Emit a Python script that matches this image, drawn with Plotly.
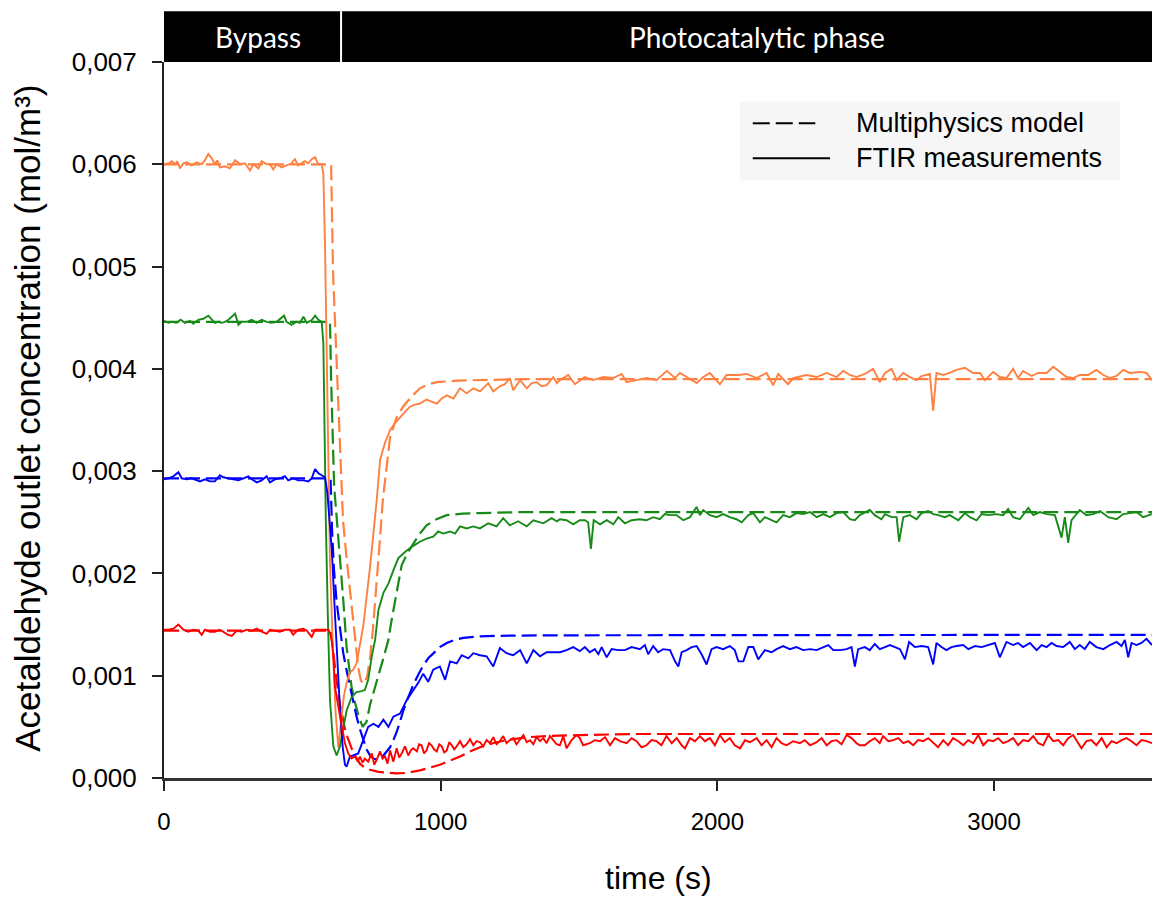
import plotly.graph_objects as go

# Concentrations are listed in units of 1e-3 mol/m3, times in s
UNIT = 1e-3

orange_model = [(0, 6.00), (604, 6.00), (611, 4.94), (618, 4.45), (625, 3.96), (635, 3.30), (647, 2.52),
                (660, 2.15), (672, 1.84), (690, 1.35), (702, 1.08), (712, 0.95), (722, 0.92), (734, 0.99),
                (745, 1.18), (755, 1.45), (770, 1.94), (781, 2.35), (791, 2.72), (804, 3.05), (817, 3.33),
                (840, 3.52), (864, 3.63), (895, 3.73), (925, 3.81), (955, 3.85), (987, 3.87), (1060, 3.885),
                (1142, 3.89), (1300, 3.90), (3571, 3.90)]
green_model = [(0, 4.46), (600, 4.46), (604, 3.90), (609, 3.30), (615, 2.85), (624, 2.55), (636, 2.18),
               (648, 1.74), (660, 1.28), (678, 0.89), (690, 0.74), (702, 0.62), (718, 0.50), (732, 0.55),
               (745, 0.72), (763, 0.90), (781, 1.06), (796, 1.20), (811, 1.35), (823, 1.55), (835, 1.74),
               (847, 1.93), (859, 2.08), (880, 2.20), (901, 2.29), (925, 2.39), (949, 2.47), (985, 2.53),
               (1022, 2.57), (1080, 2.585), (1142, 2.59), (1300, 2.60), (3571, 2.60)]
blue_model = [(0, 2.93), (602, 2.93), (607, 2.45), (614, 2.05), (624, 1.72), (636, 1.45), (648, 1.22),
              (660, 1.05), (672, 0.89), (684, 0.74), (696, 0.60), (708, 0.48), (720, 0.37), (732, 0.28),
              (745, 0.22), (757, 0.19), (769, 0.18), (781, 0.19), (793, 0.22), (805, 0.26), (817, 0.30),
              (829, 0.37), (841, 0.45), (853, 0.55), (865, 0.66), (883, 0.79), (901, 0.91), (919, 1.01),
              (937, 1.10), (955, 1.17), (973, 1.22), (997, 1.28), (1022, 1.32), (1050, 1.35), (1082, 1.37),
              (1142, 1.385), (1202, 1.39), (1400, 1.395), (3571, 1.40)]
red_model = [(0, 1.44), (602, 1.44), (608, 1.32), (615, 1.15), (624, 0.95), (636, 0.72), (645, 0.58),
             (654, 0.48), (663, 0.40), (672, 0.33), (681, 0.27), (690, 0.22), (699, 0.18), (708, 0.14),
             (726, 0.10), (745, 0.08), (775, 0.06), (805, 0.05), (840, 0.045), (877, 0.05), (901, 0.06),
             (925, 0.075), (960, 0.10), (997, 0.13), (1034, 0.17), (1070, 0.21), (1106, 0.26), (1142, 0.30),
             (1200, 0.35), (1262, 0.38), (1320, 0.40), (1383, 0.41), (1503, 0.42), (1700, 0.43), (3571, 0.43)]

orange_ftir = [(0, 6.00), (18, 6.01), (28, 6.03), (40, 6.00), (48, 6.03), (58, 5.96), (70, 6.01), (82, 6.02),
               (100, 5.99), (118, 6.02), (136, 6.00), (148, 6.04), (160, 6.10), (172, 6.06), (184, 6.00),
               (193, 6.04), (202, 5.97), (220, 5.98), (238, 5.96), (257, 6.04), (275, 6.00), (293, 6.01),
               (311, 5.94), (323, 6.00), (341, 5.96), (353, 6.03), (371, 6.00), (383, 6.00), (395, 5.95),
               (407, 6.00), (425, 5.97), (443, 5.99), (461, 6.01), (473, 6.05), (485, 5.99), (497, 6.01),
               (509, 6.03), (521, 6.01), (534, 6.05), (546, 6.07), (558, 6.00), (570, 6.00),
               (576, 5.91), (582, 5.20), (588, 4.20), (594, 2.90), (600, 2.10), (610, 1.30), (620, 0.65),
               (630, 0.30), (640, 0.55), (650, 0.80), (662, 0.95), (672, 1.03), (684, 1.06), (696, 1.12),
               (720, 1.48), (745, 2.07), (769, 2.72), (781, 3.11), (799, 3.28), (817, 3.40), (835, 3.47),
               (853, 3.53), (871, 3.58), (889, 3.63), (907, 3.65), (925, 3.66), (949, 3.70), (967, 3.68),
               (986, 3.66), (1004, 3.71), (1022, 3.74), (1046, 3.71), (1070, 3.81), (1094, 3.76),
               (1118, 3.81), (1142, 3.78), (1172, 3.86), (1190, 3.78), (1214, 3.83), (1232, 3.85),
               (1250, 3.91), (1262, 3.79), (1287, 3.89), (1311, 3.81), (1329, 3.86), (1347, 3.87),
               (1365, 3.83), (1383, 3.84), (1407, 3.92), (1420, 3.86),
               (1431, 3.89), (1461, 3.94), (1485, 3.85), (1521, 3.92), (1551, 3.89), (1588, 3.92),
               (1624, 3.91), (1654, 3.95), (1672, 3.87), (1708, 3.89), (1744, 3.91), (1780, 3.89),
               (1817, 3.98), (1847, 3.91), (1865, 3.96), (1889, 3.92), (1925, 3.86), (1949, 3.92),
               (1973, 3.96), (2009, 3.85), (2033, 3.94), (2076, 3.94), (2106, 3.95), (2142, 3.91),
               (2178, 3.96), (2202, 3.84), (2220, 3.95), (2256, 3.85), (2274, 3.91), (2322, 3.94),
               (2359, 3.92), (2395, 3.96), (2431, 3.92), (2455, 3.98), (2479, 3.94), (2503, 3.92),
               (2533, 3.95), (2563, 4.00), (2587, 3.87), (2606, 3.96), (2630, 4.00), (2648, 3.89),
               (2672, 3.96), (2696, 3.92), (2720, 3.89), (2738, 3.93), (2768, 3.95), (2780, 3.59),
               (2792, 3.96), (2816, 3.94), (2840, 3.96), (2864, 3.99), (2895, 4.01), (2925, 3.96),
               (2949, 3.96), (2967, 3.89), (2997, 3.97), (3021, 3.92), (3045, 3.91), (3069, 4.00),
               (3087, 3.91), (3105, 3.98), (3136, 3.93), (3160, 3.96), (3190, 3.96), (3214, 4.02),
               (3238, 3.97), (3262, 3.92), (3286, 3.91), (3310, 3.94), (3340, 3.94), (3370, 3.99),
               (3395, 3.94), (3419, 3.91), (3443, 3.93), (3467, 3.99), (3491, 3.96), (3527, 3.97),
               (3551, 3.96), (3571, 3.89)]

green_ftir = [(0, 4.47), (16, 4.45), (28, 4.46), (46, 4.45), (60, 4.48), (76, 4.45), (94, 4.47), (106, 4.44),
              (124, 4.48), (142, 4.49), (160, 4.52), (172, 4.48), (184, 4.45), (196, 4.46), (209, 4.45),
              (220, 4.46), (233, 4.48), (245, 4.51), (257, 4.54), (269, 4.43), (281, 4.46), (299, 4.46),
              (317, 4.48), (335, 4.45), (353, 4.48), (371, 4.46), (389, 4.45), (407, 4.46), (419, 4.49),
              (434, 4.52), (443, 4.46), (461, 4.43), (479, 4.46), (491, 4.45), (504, 4.51), (516, 4.45),
              (535, 4.48), (546, 4.52), (558, 4.48), (570, 4.46),
              (576, 4.25), (580, 3.40), (585, 2.50), (592, 1.60), (600, 0.76), (612, 0.31), (624, 0.22),
              (636, 0.31), (648, 0.50), (660, 0.66), (678, 0.79), (696, 0.84), (714, 0.85), (726, 0.86),
              (738, 0.96), (751, 1.19), (763, 1.35), (775, 1.64), (793, 1.81), (811, 1.90), (829, 2.03),
              (847, 2.15), (871, 2.21), (895, 2.26), (925, 2.31), (949, 2.34), (973, 2.36), (991, 2.41),
              (1009, 2.39), (1034, 2.41), (1052, 2.39), (1070, 2.46), (1094, 2.44), (1118, 2.46),
              (1142, 2.44), (1172, 2.49), (1202, 2.46), (1226, 2.54), (1250, 2.47), (1280, 2.51),
              (1311, 2.46), (1335, 2.52), (1371, 2.49), (1401, 2.54), (1420, 2.51),
              (1431, 2.53), (1455, 2.52), (1479, 2.48), (1503, 2.52), (1521, 2.52), (1533, 2.50),
              (1543, 2.24), (1553, 2.52), (1576, 2.48), (1600, 2.52), (1624, 2.48), (1642, 2.55),
              (1666, 2.49), (1690, 2.52), (1720, 2.53), (1744, 2.52), (1768, 2.55), (1792, 2.53),
              (1810, 2.58), (1829, 2.57), (1853, 2.57), (1877, 2.52), (1901, 2.55), (1925, 2.65),
              (1937, 2.57), (1949, 2.62), (1973, 2.57), (1997, 2.55), (2021, 2.58), (2045, 2.55),
              (2069, 2.53), (2088, 2.50), (2112, 2.57), (2130, 2.59), (2154, 2.50), (2172, 2.55),
              (2190, 2.53), (2214, 2.50), (2238, 2.57), (2262, 2.55), (2286, 2.59), (2310, 2.58),
              (2335, 2.60), (2359, 2.55), (2383, 2.58), (2407, 2.55), (2431, 2.59), (2455, 2.60),
              (2479, 2.53), (2497, 2.52), (2515, 2.57), (2551, 2.62), (2569, 2.57), (2593, 2.53),
              (2606, 2.58), (2630, 2.55), (2648, 2.55), (2657, 2.31), (2672, 2.55), (2696, 2.57),
              (2720, 2.53), (2738, 2.59), (2762, 2.61), (2780, 2.58), (2798, 2.57), (2822, 2.55),
              (2840, 2.57), (2871, 2.52), (2895, 2.59), (2913, 2.55), (2937, 2.52), (2955, 2.58),
              (2979, 2.57), (3009, 2.58), (3033, 2.57), (3051, 2.63), (3069, 2.55), (3093, 2.53),
              (3124, 2.64), (3142, 2.57), (3166, 2.60), (3190, 2.58), (3220, 2.57), (3244, 2.35),
              (3256, 2.55), (3268, 2.30), (3280, 2.52), (3310, 2.62), (3334, 2.57), (3358, 2.58),
              (3383, 2.61), (3413, 2.55), (3443, 2.53), (3467, 2.58), (3491, 2.59), (3515, 2.60),
              (3539, 2.55), (3571, 2.58)]

blue_ftir = [(0, 2.92), (16, 2.93), (34, 2.95), (52, 2.99), (64, 2.93), (82, 2.92), (100, 2.93), (118, 2.91),
             (130, 2.90), (148, 2.92), (166, 2.90), (184, 2.90), (202, 2.96), (214, 2.94), (232, 2.93),
             (250, 2.92), (269, 2.91), (287, 2.93), (305, 2.95), (317, 2.92), (335, 2.89), (353, 2.91),
             (371, 2.95), (383, 2.89), (401, 2.92), (419, 2.93), (437, 2.95), (449, 2.91), (467, 2.93),
             (485, 2.91), (504, 2.91), (522, 2.90), (534, 2.93), (546, 3.02), (558, 2.98), (570, 2.96),
             (582, 2.94),
             (590, 2.80), (598, 2.50), (606, 2.25), (618, 1.60), (628, 1.05), (636, 0.68), (646, 0.30),
             (654, 0.13), (660, 0.11), (672, 0.21), (684, 0.22), (702, 0.24), (720, 0.37), (738, 0.50),
             (757, 0.53), (775, 0.50), (793, 0.57), (811, 0.50), (829, 0.60), (853, 0.63), (877, 0.76),
             (901, 0.86), (919, 0.93), (937, 1.02), (955, 0.94), (973, 1.06), (997, 1.09), (1016, 0.96),
             (1034, 1.14), (1058, 1.12), (1076, 1.20), (1100, 1.17), (1118, 1.22), (1142, 1.20),
             (1166, 1.19), (1190, 1.09), (1214, 1.27), (1238, 1.22), (1262, 1.20), (1287, 1.25),
             (1311, 1.12), (1335, 1.25), (1359, 1.19), (1383, 1.23), (1407, 1.23),
             (1431, 1.23), (1455, 1.25), (1479, 1.28), (1503, 1.24), (1521, 1.28), (1539, 1.23),
             (1557, 1.26), (1570, 1.21), (1582, 1.28), (1600, 1.18), (1618, 1.26), (1642, 1.25),
             (1666, 1.25), (1690, 1.28), (1720, 1.26), (1738, 1.30), (1750, 1.21), (1768, 1.29),
             (1786, 1.23), (1804, 1.26), (1829, 1.25), (1847, 1.14), (1859, 1.09), (1871, 1.23),
             (1889, 1.25), (1907, 1.28), (1925, 1.29), (1943, 1.21), (1961, 1.11), (1979, 1.26),
             (1997, 1.28), (2021, 1.26), (2045, 1.29), (2063, 1.25), (2076, 1.14), (2094, 1.14),
             (2112, 1.28), (2130, 1.28), (2148, 1.16), (2172, 1.25), (2196, 1.23), (2214, 1.26),
             (2238, 1.29), (2262, 1.26), (2286, 1.28), (2310, 1.25), (2335, 1.26), (2359, 1.25),
             (2383, 1.28), (2401, 1.30), (2419, 1.25), (2443, 1.25), (2467, 1.26), (2485, 1.28),
             (2497, 1.09), (2509, 1.26), (2533, 1.28), (2551, 1.25), (2569, 1.31), (2587, 1.26),
             (2606, 1.28), (2624, 1.30), (2642, 1.28), (2660, 1.26), (2678, 1.16), (2693, 1.33),
             (2714, 1.28), (2738, 1.29), (2762, 1.28), (2780, 1.11), (2792, 1.32), (2810, 1.28),
             (2828, 1.25), (2846, 1.28), (2864, 1.29), (2889, 1.30), (2907, 1.26), (2931, 1.29),
             (2955, 1.28), (2979, 1.30), (3003, 1.32), (3021, 1.18), (3045, 1.33), (3069, 1.30),
             (3087, 1.32), (3105, 1.28), (3130, 1.32), (3154, 1.25), (3172, 1.30), (3190, 1.28),
             (3208, 1.32), (3226, 1.29), (3250, 1.28), (3274, 1.33), (3292, 1.26), (3310, 1.30),
             (3328, 1.26), (3346, 1.33), (3370, 1.28), (3395, 1.26), (3419, 1.30), (3443, 1.33),
             (3461, 1.29), (3473, 1.35), (3485, 1.18), (3497, 1.32), (3515, 1.30), (3533, 1.32),
             (3551, 1.36), (3571, 1.30)]

red_ftir = [(0, 1.45), (16, 1.45), (34, 1.46), (52, 1.50), (70, 1.45), (88, 1.43), (106, 1.45), (124, 1.44),
            (136, 1.40), (148, 1.45), (166, 1.43), (184, 1.43), (202, 1.45), (220, 1.42), (232, 1.40),
            (245, 1.39), (263, 1.44), (281, 1.43), (299, 1.45), (317, 1.44), (335, 1.46), (353, 1.43),
            (371, 1.41), (383, 1.45), (401, 1.44), (419, 1.43), (437, 1.45), (455, 1.45), (467, 1.40),
            (485, 1.45), (504, 1.46), (516, 1.44), (534, 1.38), (546, 1.45), (564, 1.45), (582, 1.45),
            (594, 1.45), (600, 1.42), (606, 1.35), (612, 1.19), (618, 0.89), (630, 0.70), (642, 0.50),
            (654, 0.34), (666, 0.24), (678, 0.19), (690, 0.21), (700, 0.16), (708, 0.21), (718, 0.15),
            (726, 0.19), (738, 0.16), (751, 0.24), (760, 0.13), (769, 0.18), (781, 0.26), (790, 0.19),
            (799, 0.21), (808, 0.14), (817, 0.27), (829, 0.16), (841, 0.29), (850, 0.20), (859, 0.24),
            (871, 0.31), (883, 0.22), (892, 0.27), (901, 0.29), (914, 0.26), (922, 0.33), (931, 0.32),
            (940, 0.24), (949, 0.27), (958, 0.34), (967, 0.32), (976, 0.28), (986, 0.26), (995, 0.33),
            (1004, 0.31), (1013, 0.25), (1022, 0.27), (1031, 0.35), (1040, 0.32), (1049, 0.28),
            (1058, 0.31), (1070, 0.36), (1082, 0.30), (1094, 0.33), (1106, 0.38), (1118, 0.32),
            (1130, 0.36), (1142, 0.35), (1154, 0.31), (1166, 0.37), (1178, 0.34), (1190, 0.40),
            (1202, 0.33), (1214, 0.36), (1226, 0.41), (1238, 0.34), (1250, 0.37), (1262, 0.39),
            (1274, 0.33), (1287, 0.38), (1299, 0.42), (1311, 0.35), (1323, 0.37), (1335, 0.33),
            (1347, 0.40), (1359, 0.36), (1371, 0.39), (1383, 0.34), (1395, 0.41), (1407, 0.37),
            (1419, 0.33),
            (1431, 0.32), (1443, 0.41), (1455, 0.29), (1473, 0.37), (1491, 0.42), (1503, 0.39),
            (1515, 0.32), (1539, 0.34), (1557, 0.37), (1576, 0.36), (1594, 0.40), (1612, 0.32),
            (1630, 0.39), (1648, 0.36), (1672, 0.34), (1690, 0.39), (1708, 0.36), (1726, 0.30),
            (1744, 0.32), (1762, 0.37), (1780, 0.36), (1798, 0.32), (1816, 0.41), (1835, 0.34),
            (1853, 0.39), (1871, 0.32), (1883, 0.29), (1901, 0.39), (1919, 0.36), (1937, 0.41),
            (1955, 0.36), (1973, 0.39), (1991, 0.32), (2009, 0.42), (2027, 0.35), (2045, 0.39),
            (2063, 0.32), (2082, 0.29), (2100, 0.37), (2118, 0.35), (2142, 0.39), (2160, 0.32),
            (2178, 0.37), (2196, 0.30), (2214, 0.39), (2232, 0.34), (2250, 0.32), (2274, 0.36),
            (2298, 0.34), (2316, 0.37), (2335, 0.32), (2359, 0.35), (2377, 0.39), (2395, 0.32),
            (2413, 0.36), (2431, 0.37), (2449, 0.33), (2467, 0.42), (2485, 0.39), (2503, 0.34),
            (2515, 0.32), (2533, 0.32), (2551, 0.36), (2569, 0.39), (2587, 0.34), (2599, 0.41),
            (2618, 0.36), (2636, 0.37), (2654, 0.39), (2672, 0.34), (2690, 0.36), (2708, 0.32),
            (2726, 0.37), (2744, 0.36), (2762, 0.39), (2780, 0.34), (2798, 0.30), (2816, 0.37),
            (2834, 0.32), (2852, 0.39), (2871, 0.36), (2889, 0.32), (2907, 0.37), (2925, 0.34),
            (2943, 0.42), (2961, 0.32), (2979, 0.37), (2997, 0.36), (3015, 0.39), (3033, 0.34),
            (3051, 0.36), (3069, 0.39), (3087, 0.32), (3105, 0.37), (3124, 0.36), (3142, 0.41),
            (3160, 0.34), (3178, 0.32), (3196, 0.42), (3214, 0.36), (3232, 0.37), (3250, 0.32),
            (3268, 0.39), (3286, 0.42), (3304, 0.34), (3316, 0.29), (3334, 0.36), (3352, 0.37),
            (3370, 0.32), (3389, 0.39), (3407, 0.30), (3425, 0.36), (3443, 0.34), (3461, 0.37),
            (3479, 0.39), (3497, 0.36), (3515, 0.32), (3533, 0.37), (3551, 0.36), (3571, 0.34)]

colors = {"orange": "#FF8040", "green": "#178A17", "blue": "#0000FF", "red": "#FF0000"}
series = [("orange", orange_model, orange_ftir), ("green", green_model, green_ftir),
          ("blue", blue_model, blue_ftir), ("red", red_model, red_ftir)]

x_ticks = [0, 1000, 2000, 3000]
y_ticks = [0, 0.001, 0.002, 0.003, 0.004, 0.005, 0.006, 0.007]
x_range = [0, 3571]
y_range = [0, 0.007]

fig = go.Figure()
for name, model, ftir in series:
    fig.add_trace(go.Scatter(x=[p[0] for p in model], y=[p[1] * UNIT for p in model], mode="lines",
                             line=dict(color=colors[name], width=2.2, dash="15px,6px"),
                             showlegend=False, hoverinfo="skip"))
for name, model, ftir in series:
    fig.add_trace(go.Scatter(x=[p[0] for p in ftir], y=[p[1] * UNIT for p in ftir], mode="lines",
                             line=dict(color=colors[name], width=1.9),
                             showlegend=False, hoverinfo="skip"))

SANS = "Liberation Sans, Arial, sans-serif"

fig.update_layout(
    width=1152, height=898,
    margin=dict(l=164, r=0, t=62, b=120),
    paper_bgcolor="white", plot_bgcolor="white",
    separators=",.",
    xaxis=dict(range=x_range, tickvals=x_ticks, showgrid=False, zeroline=False,
               showline=True, linecolor="#333333", linewidth=2.5,
               ticks="outside", ticklen=10, tickwidth=1.5, tickcolor="#222222",
               tickfont=dict(family=SANS, size=24, color="black"), ticklabelstandoff=10),
    yaxis=dict(range=y_range, tickvals=y_ticks, tickformat=".3f", showgrid=False, zeroline=False,
               showline=True, linecolor="#222222", linewidth=2,
               ticks="outside", ticklen=10, tickwidth=1.5, tickcolor="#222222",
               tickfont=dict(family=SANS, size=26, color="black"), ticklabelstandoff=10),
)

shapes = [
    dict(type="rect", xref="paper", yref="paper", x0=0, x1=1, y0=1.0, y1=1.071,
         fillcolor="black", line=dict(width=0)),
    dict(type="line", xref="x", yref="paper", x0=640, x1=640, y0=1.0, y1=1.071,
         line=dict(color="white", width=2)),
    dict(type="rect", xref="paper", yref="paper", x0=0.583, x1=0.968, y0=0.835, y1=0.945,
         fillcolor="#f6f6f6", line=dict(width=0), layer="below"),
    dict(type="line", xref="paper", yref="paper", x0=0.5959, x1=0.6592, y0=0.9144, y1=0.9144,
         line=dict(color="black", width=2, dash="17px,6px")),
    dict(type="line", xref="paper", yref="paper", x0=0.5959, x1=0.6741, y0=0.8655, y1=0.8655,
         line=dict(color="black", width=2)),
]
fig.update_layout(shapes=shapes)

BANNER = "Lato, Open Sans, sans-serif"
annotations = [
    dict(text="Bypass", xref="paper", yref="paper", x=0.0951, y=1.0356, showarrow=False,
         xanchor="center", yanchor="middle", font=dict(family=BANNER, size=28, color="white")),
    dict(text="Photocatalytic phase", xref="paper", yref="paper", x=0.600, y=1.0356, showarrow=False,
         xanchor="center", yanchor="middle", font=dict(family=BANNER, size=28, color="white")),
    dict(text="Multiphysics model", xref="paper", yref="paper", x=0.6984, y=0.9144, showarrow=False,
         xanchor="left", yanchor="middle", font=dict(family=SANS, size=27, color="black")),
    dict(text="FTIR measurements", xref="paper", yref="paper", x=0.6984, y=0.8655, showarrow=False,
         xanchor="left", yanchor="middle", font=dict(family=SANS, size=27, color="black")),
    dict(text="Acetaldehyde outlet concentration (mol/m³)", xref="paper", yref="paper",
         x=-0.1377, y=0.503, showarrow=False, textangle=-90, xanchor="center", yanchor="middle",
         font=dict(family=SANS, size=35, color="black")),
    dict(text="time (s)", xref="paper", yref="paper", x=0.5, y=-0.1397, showarrow=False,
         xanchor="center", yanchor="middle", font=dict(family=SANS, size=32, color="black")),
]
fig.update_layout(annotations=annotations)

fig.write_html("out.html", config={"displayModeBar": False})

# remove the default page margin so the figure sits at the window's top-left corner
with open("out.html", encoding="utf-8") as f:
    html = f.read()
html = html.replace("<head>", "<head><style>html,body{margin:0;padding:0;overflow:hidden}</style>", 1)
with open("out.html", "w", encoding="utf-8") as f:
    f.write(html)
